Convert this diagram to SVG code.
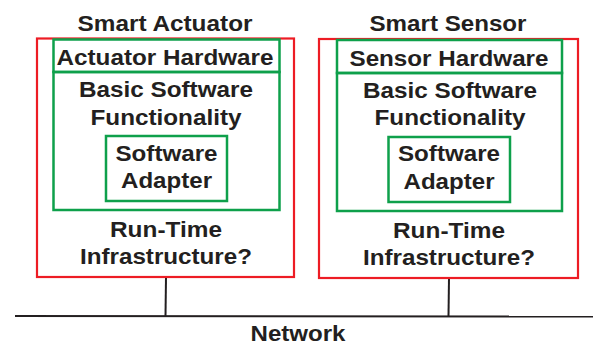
<svg xmlns="http://www.w3.org/2000/svg" width="595" height="346" viewBox="0 0 595 346">
<style>
.t{font-family:"Liberation Sans",Arial,sans-serif;font-weight:bold;font-size:22px;fill:#231f20;text-anchor:middle}
.red{fill:none;stroke:#ed1c24;stroke-width:2.2}
.grn{fill:none;stroke:#0ea04b;stroke-width:2.5}
.ln{fill:none;stroke:#231f20;stroke-width:2}
</style>
<rect width="595" height="346" fill="#fff"/>
<g id="connectors">
<line class="ln" x1="15" y1="316" x2="593" y2="316.5"/>
<line class="ln" x1="166" y1="277" x2="165.5" y2="316"/>
<line class="ln" x1="449" y1="278" x2="448.5" y2="316"/>
</g>
<g id="smart-actuator">
<rect class="red" x="37" y="38.5" width="257" height="238.5"/>
<text class="t" x="165" y="31" textLength="175" lengthAdjust="spacingAndGlyphs">Smart Actuator</text>
<text class="t" x="166" y="237" textLength="112" lengthAdjust="spacingAndGlyphs">Run-Time</text>
<text class="t" x="166" y="264" textLength="172" lengthAdjust="spacingAndGlyphs">Infrastructure?</text>
</g>
<g id="actuator-hardware">
<rect class="grn" x="53.5" y="39.5" width="226" height="32.5"/>
<text class="t" x="165" y="65" textLength="217" lengthAdjust="spacingAndGlyphs">Actuator Hardware</text>
</g>
<g id="actuator-basic-software">
<rect class="grn" x="53.5" y="72" width="226" height="138"/>
<text class="t" x="166" y="97" textLength="174" lengthAdjust="spacingAndGlyphs">Basic Software</text>
<text class="t" x="166" y="124.5" textLength="151" lengthAdjust="spacingAndGlyphs">Functionality</text>
</g>
<g id="actuator-software-adapter">
<rect class="grn" x="106" y="136" width="121" height="65"/>
<text class="t" x="166.5" y="160.5" textLength="102" lengthAdjust="spacingAndGlyphs">Software</text>
<text class="t" x="166.5" y="188" textLength="91" lengthAdjust="spacingAndGlyphs">Adapter</text>
</g>
<g id="smart-sensor">
<rect class="red" x="319" y="39" width="259" height="239"/>
<text class="t" x="448" y="31" textLength="157" lengthAdjust="spacingAndGlyphs">Smart Sensor</text>
<text class="t" x="449" y="237.5" textLength="112" lengthAdjust="spacingAndGlyphs">Run-Time</text>
<text class="t" x="449" y="264.5" textLength="172" lengthAdjust="spacingAndGlyphs">Infrastructure?</text>
</g>
<g id="sensor-hardware">
<rect class="grn" x="337" y="40" width="225" height="33"/>
<text class="t" x="449" y="65.5" textLength="199" lengthAdjust="spacingAndGlyphs">Sensor Hardware</text>
</g>
<g id="sensor-basic-software">
<rect class="grn" x="337" y="73" width="225" height="138"/>
<text class="t" x="450" y="97.5" textLength="174" lengthAdjust="spacingAndGlyphs">Basic Software</text>
<text class="t" x="450" y="125" textLength="151" lengthAdjust="spacingAndGlyphs">Functionality</text>
</g>
<g id="sensor-software-adapter">
<rect class="grn" x="388.5" y="137" width="121.5" height="65"/>
<text class="t" x="449" y="161" textLength="102" lengthAdjust="spacingAndGlyphs">Software</text>
<text class="t" x="449" y="189" textLength="91" lengthAdjust="spacingAndGlyphs">Adapter</text>
</g>
<g id="network">
<text class="t" x="298" y="341" textLength="95" lengthAdjust="spacingAndGlyphs">Network</text>
</g>
</svg>
